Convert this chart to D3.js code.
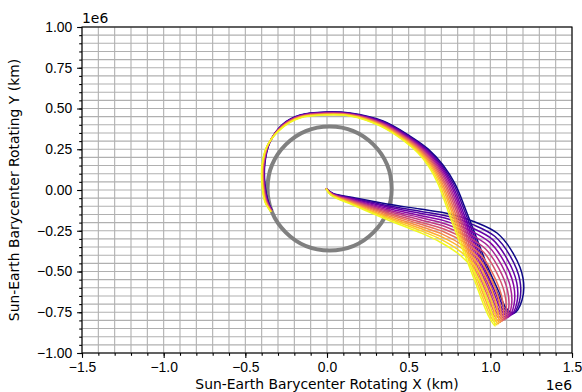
<!DOCTYPE html>
<html>
<head>
<meta charset="utf-8">
<script src="https://cdn.jsdelivr.net/npm/d3@7"></script>
<style>
  body { margin: 0; background: #fff; }
  svg { font-family: "DejaVu Sans", sans-serif; }
</style>
</head>
<body>
<svg id="chart" width="582" height="392"></svg>
<script>
// all positions in units of 1e6 km (the "1e6" offset shown on the axes)
const xTicks = [-1.5, -1.0, -0.5, 0.0, 0.5, 1.0, 1.5];
const yTicks = [-1.0, -0.75, -0.5, -0.25, 0.0, 0.25, 0.5, 0.75, 1.0];
const xLabel = "Sun-Earth Barycenter Rotating X (km)";
const yLabel = "Sun-Earth Barycenter Rotating Y (km)";
const offsetLabel = "1e6";

// lunar orbit (grey ring)
const moonCenter = [0.016, 0.009];
const moonRadius = 0.38;

// transfer trajectories, first (dark) to last (yellow)
const traj0 = [[-0.006,0.009],[0.037,-0.021],[0.159,-0.046],[0.367,-0.086],[0.569,-0.117],[0.753,-0.147],[0.906,-0.196],[1.041,-0.264],[1.139,-0.387],[1.200,-0.540],[1.194,-0.675],[1.145,-0.755],[1.096,-0.724],[1.053,-0.626],[0.992,-0.491],[0.937,-0.350],[0.857,-0.141],[0.784,0.037],[0.710,0.153],[0.618,0.252],[0.508,0.331],[0.343,0.423],[0.141,0.472],[-0.006,0.479],[-0.165,0.460],[-0.269,0.405],[-0.349,0.294],[-0.380,0.166],[-0.380,0.037],[-0.361,-0.067],[-0.337,-0.123]];
const traj1 = [[-0.006,0.009],[0.036,-0.022],[0.159,-0.050],[0.367,-0.095],[0.569,-0.130],[0.747,-0.163],[0.898,-0.214],[1.027,-0.284],[1.122,-0.406],[1.181,-0.555],[1.178,-0.684],[1.134,-0.762],[1.087,-0.729],[1.044,-0.632],[0.985,-0.499],[0.929,-0.356],[0.849,-0.146],[0.775,0.037],[0.702,0.152],[0.612,0.250],[0.505,0.328],[0.341,0.420],[0.141,0.470],[-0.006,0.477],[-0.165,0.458],[-0.270,0.403],[-0.351,0.292],[-0.382,0.165],[-0.382,0.036],[-0.363,-0.068],[-0.338,-0.124]];
const traj2 = [[-0.006,0.009],[0.035,-0.023],[0.159,-0.054],[0.367,-0.103],[0.569,-0.143],[0.742,-0.178],[0.889,-0.233],[1.013,-0.303],[1.104,-0.425],[1.162,-0.570],[1.162,-0.694],[1.124,-0.769],[1.077,-0.734],[1.035,-0.638],[0.977,-0.507],[0.921,-0.362],[0.840,-0.151],[0.765,0.037],[0.695,0.151],[0.607,0.247],[0.501,0.326],[0.340,0.418],[0.141,0.469],[-0.006,0.476],[-0.165,0.457],[-0.270,0.400],[-0.352,0.290],[-0.383,0.164],[-0.383,0.036],[-0.364,-0.068],[-0.338,-0.125]];
const traj3 = [[-0.006,0.009],[0.033,-0.024],[0.159,-0.059],[0.367,-0.112],[0.569,-0.156],[0.736,-0.194],[0.881,-0.251],[0.999,-0.323],[1.087,-0.444],[1.143,-0.585],[1.145,-0.703],[1.113,-0.777],[1.068,-0.739],[1.026,-0.644],[0.970,-0.514],[0.914,-0.368],[0.832,-0.156],[0.756,0.037],[0.687,0.150],[0.601,0.245],[0.498,0.323],[0.338,0.415],[0.141,0.467],[-0.006,0.474],[-0.165,0.455],[-0.271,0.398],[-0.354,0.287],[-0.385,0.162],[-0.385,0.035],[-0.366,-0.069],[-0.339,-0.126]];
const traj4 = [[-0.006,0.009],[0.032,-0.025],[0.159,-0.063],[0.367,-0.121],[0.569,-0.169],[0.731,-0.210],[0.873,-0.270],[0.985,-0.342],[1.070,-0.463],[1.124,-0.600],[1.129,-0.713],[1.103,-0.784],[1.058,-0.744],[1.017,-0.650],[0.963,-0.522],[0.906,-0.374],[0.824,-0.161],[0.746,0.037],[0.679,0.149],[0.596,0.243],[0.495,0.320],[0.336,0.412],[0.141,0.465],[-0.006,0.472],[-0.165,0.453],[-0.272,0.396],[-0.356,0.285],[-0.387,0.161],[-0.387,0.035],[-0.368,-0.070],[-0.339,-0.127]];
const traj5 = [[-0.006,0.009],[0.031,-0.026],[0.159,-0.067],[0.367,-0.129],[0.569,-0.182],[0.725,-0.225],[0.864,-0.288],[0.971,-0.362],[1.053,-0.482],[1.105,-0.615],[1.113,-0.722],[1.092,-0.791],[1.049,-0.749],[1.008,-0.656],[0.956,-0.530],[0.898,-0.380],[0.815,-0.166],[0.737,0.037],[0.671,0.148],[0.590,0.241],[0.491,0.317],[0.334,0.409],[0.141,0.464],[-0.006,0.470],[-0.165,0.452],[-0.272,0.394],[-0.357,0.283],[-0.388,0.160],[-0.388,0.034],[-0.370,-0.070],[-0.340,-0.128]];
const traj6 = [[-0.006,0.009],[0.030,-0.026],[0.159,-0.071],[0.367,-0.138],[0.569,-0.196],[0.720,-0.241],[0.856,-0.307],[0.958,-0.381],[1.035,-0.500],[1.087,-0.631],[1.097,-0.732],[1.082,-0.798],[1.039,-0.754],[1.000,-0.663],[0.948,-0.538],[0.890,-0.387],[0.807,-0.171],[0.727,0.037],[0.664,0.146],[0.585,0.238],[0.488,0.315],[0.333,0.407],[0.141,0.462],[-0.006,0.469],[-0.165,0.450],[-0.273,0.391],[-0.359,0.281],[-0.390,0.159],[-0.390,0.034],[-0.371,-0.071],[-0.340,-0.130]];
const traj7 = [[-0.006,0.009],[0.029,-0.027],[0.159,-0.075],[0.367,-0.146],[0.569,-0.209],[0.714,-0.256],[0.847,-0.325],[0.944,-0.401],[1.018,-0.519],[1.068,-0.646],[1.081,-0.741],[1.071,-0.805],[1.030,-0.759],[0.991,-0.669],[0.941,-0.546],[0.882,-0.393],[0.798,-0.176],[0.718,0.037],[0.656,0.145],[0.579,0.236],[0.485,0.312],[0.331,0.404],[0.141,0.461],[-0.006,0.467],[-0.165,0.449],[-0.273,0.389],[-0.360,0.279],[-0.391,0.158],[-0.391,0.033],[-0.373,-0.071],[-0.341,-0.131]];
const traj8 = [[-0.006,0.009],[0.028,-0.028],[0.159,-0.079],[0.367,-0.155],[0.569,-0.222],[0.709,-0.272],[0.839,-0.344],[0.930,-0.420],[1.001,-0.538],[1.049,-0.661],[1.065,-0.751],[1.061,-0.812],[1.020,-0.764],[0.982,-0.675],[0.934,-0.554],[0.874,-0.399],[0.790,-0.181],[0.708,0.037],[0.648,0.144],[0.574,0.234],[0.481,0.309],[0.329,0.401],[0.141,0.459],[-0.006,0.465],[-0.165,0.447],[-0.274,0.387],[-0.362,0.277],[-0.393,0.157],[-0.393,0.033],[-0.375,-0.072],[-0.341,-0.132]];
const traj9 = [[-0.006,0.009],[0.026,-0.029],[0.159,-0.084],[0.367,-0.164],[0.569,-0.235],[0.703,-0.288],[0.831,-0.362],[0.916,-0.440],[0.984,-0.557],[1.030,-0.676],[1.048,-0.760],[1.050,-0.820],[1.011,-0.769],[0.973,-0.681],[0.927,-0.561],[0.867,-0.405],[0.782,-0.186],[0.699,0.037],[0.640,0.143],[0.568,0.232],[0.478,0.306],[0.328,0.398],[0.141,0.457],[-0.006,0.463],[-0.165,0.445],[-0.275,0.385],[-0.364,0.274],[-0.395,0.155],[-0.395,0.032],[-0.377,-0.073],[-0.342,-0.133]];
const traj10 = [[-0.006,0.009],[0.025,-0.030],[0.159,-0.088],[0.367,-0.172],[0.569,-0.248],[0.698,-0.303],[0.822,-0.381],[0.902,-0.460],[0.966,-0.576],[1.011,-0.691],[1.032,-0.770],[1.040,-0.827],[1.001,-0.774],[0.964,-0.687],[0.919,-0.569],[0.859,-0.411],[0.773,-0.191],[0.689,0.037],[0.633,0.142],[0.563,0.229],[0.474,0.304],[0.326,0.396],[0.141,0.456],[-0.006,0.462],[-0.165,0.444],[-0.275,0.382],[-0.365,0.272],[-0.396,0.154],[-0.396,0.032],[-0.378,-0.073],[-0.342,-0.134]];
const traj11 = [[-0.006,0.009],[0.024,-0.031],[0.159,-0.092],[0.367,-0.181],[0.569,-0.261],[0.692,-0.319],[0.814,-0.399],[0.888,-0.479],[0.949,-0.595],[0.992,-0.706],[1.016,-0.779],[1.029,-0.834],[0.992,-0.779],[0.955,-0.693],[0.912,-0.577],[0.851,-0.417],[0.765,-0.196],[0.680,0.037],[0.625,0.141],[0.557,0.227],[0.471,0.301],[0.324,0.393],[0.141,0.454],[-0.006,0.460],[-0.165,0.442],[-0.276,0.380],[-0.367,0.270],[-0.398,0.153],[-0.398,0.031],[-0.380,-0.074],[-0.343,-0.135]];

const trajectories = [traj0, traj1, traj2, traj3, traj4, traj5, traj6, traj7, traj8, traj9, traj10, traj11];

// set the dimensions and margins of the graph
const margin = { top: 27, right: 10, bottom: 39, left: 82 };
const width = 582 - margin.left - margin.right;
const height = 392 - margin.top - margin.bottom;
const fontSize = 13.9;
const majorLen = 4.9;
const minorLen = 2.8;

const svg = d3.select("#chart");
const g = svg
  .append("g")
  .attr("transform", "translate(" + margin.left + "," + margin.top + ")");

const xScale = d3.scaleLinear().domain([xTicks[0], xTicks[xTicks.length - 1]]).range([0, width]);
const yScale = d3.scaleLinear().domain([yTicks[0], yTicks[yTicks.length - 1]]).range([height, 0]);

// minor steps: 0.1 on x, 0.05 on y
const xMinor = d3.range(-15, 16).map(v => v / 10);
const yMinor = d3.range(-20, 21).map(v => v / 20);

// grid (major + minor, same look)
const grid = g.append("g").attr("stroke", "#b0b0b0").attr("stroke-width", 1.1);
grid.selectAll(".vx")
  .data(xMinor)
  .enter()
  .append("line")
  .attr("x1", d => xScale(d))
  .attr("x2", d => xScale(d))
  .attr("y1", 0)
  .attr("y2", height);
grid.selectAll(".hy")
  .data(yMinor)
  .enter()
  .append("line")
  .attr("y1", d => yScale(d))
  .attr("y2", d => yScale(d))
  .attr("x1", 0)
  .attr("x2", width);

g.append("clipPath")
  .attr("id", "plotClip")
  .append("rect")
  .attr("width", width)
  .attr("height", height);

const plot = g.append("g").attr("clip-path", "url(#plotClip)");

// moon orbit
plot.append("circle")
  .attr("cx", xScale(moonCenter[0]))
  .attr("cy", yScale(moonCenter[1]))
  .attr("r", xScale(moonRadius) - xScale(0))
  .attr("fill", "none")
  .attr("stroke", "#808080")
  .attr("stroke-width", 4);

// trajectories
const line = d3.line()
  .x(d => xScale(d[0]))
  .y(d => yScale(d[1]))
  .curve(d3.curveCatmullRom.alpha(0.5));

plot.selectAll(".traj")
  .data(trajectories)
  .enter()
  .append("path")
  .attr("d", line)
  .attr("fill", "none")
  .attr("stroke", (d, i) => d3.interpolatePlasma(i / (trajectories.length - 1)))
  .attr("stroke-width", 1.5);

// axes
function styleAxis(sel) {
  sel.select(".domain").remove();
  sel.selectAll("line").attr("stroke", "#000").attr("stroke-width", 1.1);
  sel.selectAll("text").attr("fill", "#000").style("font-size", fontSize + "px");
}

g.append("g")
  .attr("transform", "translate(0," + height + ")")
  .call(d3.axisBottom(xScale).tickValues(xMinor).tickSize(minorLen).tickFormat(""))
  .call(styleAxis);
g.append("g")
  .attr("transform", "translate(0," + height + ")")
  .call(d3.axisBottom(xScale).tickValues(xTicks).tickSize(majorLen).tickPadding(3.9).tickFormat(d3.format(".1f")))
  .call(styleAxis);

g.append("g")
  .call(d3.axisLeft(yScale).tickValues(yMinor).tickSize(minorLen).tickFormat(""))
  .call(styleAxis);
g.append("g")
  .call(d3.axisLeft(yScale).tickValues(yTicks).tickSize(majorLen).tickPadding(4.9).tickFormat(d3.format(".2f")))
  .call(styleAxis);

// frame
g.append("rect")
  .attr("width", width)
  .attr("height", height)
  .attr("fill", "none")
  .attr("stroke", "#000")
  .attr("stroke-width", 1.1);

// labels
svg.append("text")
  .attr("x", margin.left + width / 2)
  .attr("y", 388.5)
  .attr("text-anchor", "middle")
  .style("font-size", fontSize + "px")
  .text(xLabel);

svg.append("text")
  .attr("transform", "translate(18.5," + (margin.top + height / 2) + ") rotate(-90)")
  .attr("text-anchor", "middle")
  .style("font-size", fontSize + "px")
  .text(yLabel);

svg.append("text")
  .attr("x", margin.left + width)
  .attr("y", 389.5)
  .attr("text-anchor", "end")
  .style("font-size", fontSize + "px")
  .text(offsetLabel);

svg.append("text")
  .attr("x", margin.left)
  .attr("y", 23.3)
  .style("font-size", fontSize + "px")
  .text(offsetLabel);
</script>
</body>
</html>
